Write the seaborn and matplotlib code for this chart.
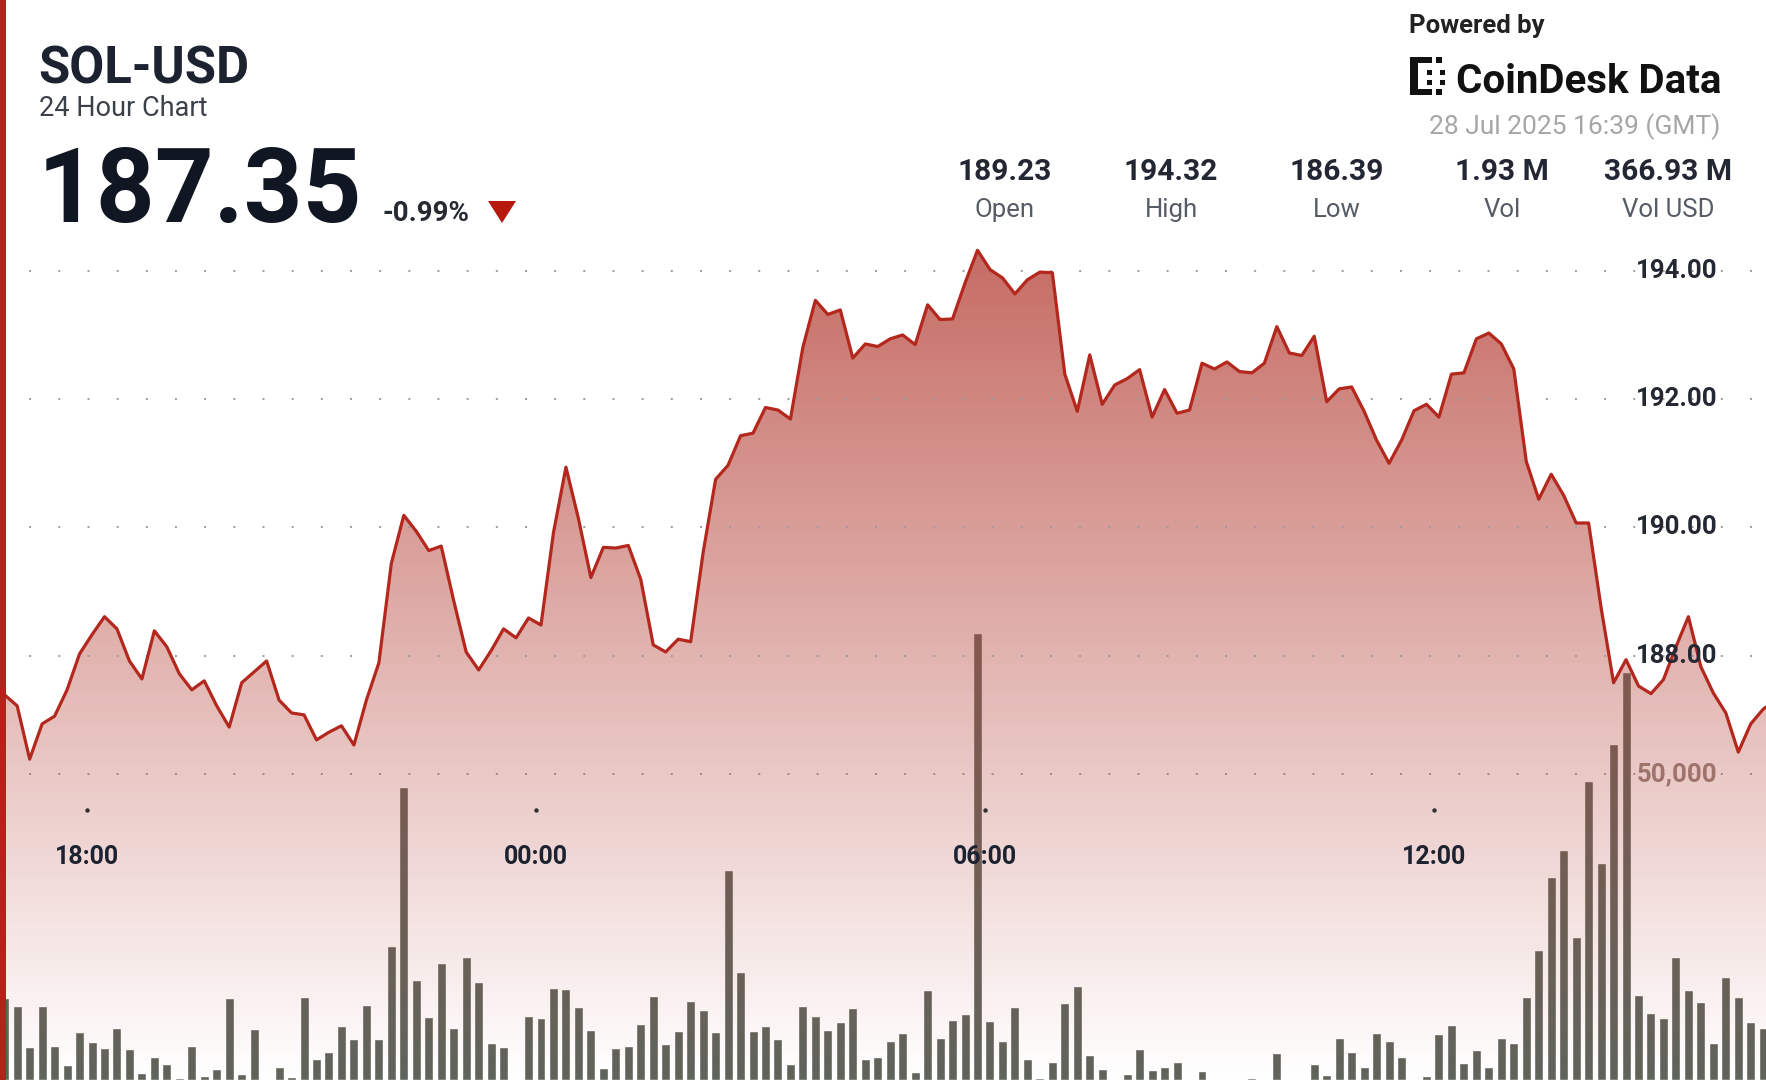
import numpy as np
import matplotlib
matplotlib.use("Agg")
import matplotlib.pyplot as plt
import matplotlib.transforms as mtransforms
from matplotlib.patches import Polygon, Rectangle
import seaborn as sns

# SOL-USD, 10 minute steps starting 27 Jul 16:54 (hours counted from 27 Jul 00:00)
start_hour = 16.9
step_hour = 1 / 6

price = [
    187.39, 187.22, 186.39, 186.94, 187.06, 187.47, 188.03, 188.33, 188.61, 188.42,
    187.92, 187.64, 188.39, 188.14, 187.72, 187.47, 187.61, 187.22, 186.89, 187.58,
    187.75, 187.92, 187.31, 187.11, 187.08,
    186.69, 186.81, 186.91, 186.61, 187.31, 187.89, 189.44, 190.19, 189.94, 189.64,
    189.71, 188.86, 188.06, 187.78, 188.08, 188.42, 188.28, 188.59, 188.48, 189.92,
    190.94, 190.14, 189.22, 189.69,
    189.68, 189.72, 189.19, 188.17, 188.06, 188.26, 188.22, 189.61, 190.75, 190.97,
    191.43, 191.47, 191.87, 191.83, 191.69, 192.81, 193.54, 193.32, 193.39, 192.64,
    192.86, 192.82, 192.94,
    193.00, 192.85, 193.47, 193.24, 193.25, 193.81, 194.32, 194.02, 193.89, 193.64,
    193.86, 193.98, 193.97, 192.39, 191.81, 192.69, 191.92, 192.22, 192.32, 192.46,
    191.72, 192.15, 191.78, 191.83,
    192.56, 192.47, 192.58, 192.43, 192.41, 192.56, 193.13, 192.72, 192.68, 192.98,
    191.96, 192.16, 192.19, 191.81, 191.36, 191.00, 191.36, 191.82, 191.92, 191.72,
    192.39, 192.41, 192.94, 193.03,
    192.86, 192.47, 191.03, 190.44, 190.83, 190.50, 190.07, 190.07, 188.75, 187.58,
    187.94, 187.53, 187.41, 187.63, 188.14, 188.61, 187.83, 187.42, 187.11, 186.50,
    186.94, 187.17, 187.31,
]

volume = [
    13345, 12093, 5447, 12093, 5610, 2451, 7789, 6155, 5175, 8443,
    5011, 1198, 3813, 2560, 300, 5556, 708, 1743, 13345, 980,
    8280, 200, 2179, 436, 13618, 3377, 4630, 8824, 6645, 12256,
    6645, 21951, 47934, 16341, 10349, 19173, 8552, 20045, 15960, 5992,
    5338, 200, 10458, 10077, 14979, 14816, 11874, 8171, 1906, 5175,
    5556, 9151, 13726, 5883, 8062, 12964, 11439, 7898, 34316, 17703,
    8007, 8824, 6645, 2560, 12147, 10458, 8171, 9532, 11711, 3377,
    3704, 6427, 7626,
    1362, 14707, 6809, 9805, 10785, 73000, 9696, 6373, 11874, 3377,
    272, 2996, 12637, 15361, 4085, 1798, 0, 980, 5066, 1634,
    2179, 2887, 0, 1525, 0, 0, 0, 381, 0, 4358,
    0, 0, 2560, 817, 6809, 4521, 2179, 7626, 6427, 3813,
    0, 654, 7517, 8988, 2724, 4902, 2179, 6809, 5992, 13509,
    21243, 33227, 37584, 23313, 48860, 35514, 54851, 66700, 13890, 11003,
    10077, 20154, 14707, 12800, 5992, 16777, 13509, 9532, 8443, 14162,
]

hours = start_hour + step_hour * np.arange(len(price))

tick_hours = [18, 24, 30, 36]
tick_labels = ["18:00", "00:00", "06:00", "12:00"]
price_ticks = [194, 192, 190, 188]
volume_tick = 50000

stat_values = ["189.23", "194.32", "186.39", "1.93 M", "366.93 M"]
stat_names = ["Open", "High", "Low", "Vol", "Vol USD"]

W, H = 1766, 1080
RED = "#b3271d"
DARK = "#1c2230"

sns.set_theme(style="white")
plt.rcParams["font.family"] = ["Roboto", "DejaVu Sans"]

fig = plt.figure(figsize=(W / 100, H / 100), dpi=100)
fig.patch.set_facecolor("white")
ax2 = fig.add_axes([0, 0, 1, 1])   # volume, drawn underneath
ax = fig.add_axes([0, 0, 1, 1])    # price
ax.patch.set_visible(False)

xlim = (16.837, 40.437)
ylim = (181.39, 198.22)

# volume bars
ax2.bar(hours, volume, width=step_hour * 0.72, color="#60645b", zorder=2)
ax2.set_xlim(*xlim)
ax2.set_ylim(0, 176470)
ax2.axhline(volume_tick, color="#9c9c9c", lw=1.4, ls=(0, (1, 14)), zorder=1)
ax2.set_axis_off()

# gradient area under the price line
grad = np.zeros((256, 1, 4))
grad[:, 0, 0] = 0.72
grad[:, 0, 1] = 0.28
grad[:, 0, 2] = 0.24
grad[:, 0, 3] = np.linspace(0.80, 0.0, 256)
im = ax.imshow(grad, extent=[xlim[0], xlim[1], ylim[0], max(price)],
               aspect="auto", origin="upper", zorder=2)
poly = ax.fill_between(hours, price, ylim[0], facecolor="none", edgecolor="none")
im.set_clip_path(poly.get_paths()[0], transform=ax.transData)

for v in price_ticks:
    ax.axhline(v, color="#9c9c9c", lw=1.4, ls=(0, (1, 14)), zorder=3)

sns.lineplot(x=hours, y=price, ax=ax, color=RED, linewidth=2.3, zorder=4)

ax.set_xlim(*xlim)
ax.set_ylim(*ylim)
ax.set_axis_off()

# axis labels drawn inside the plot
ytrans = mtransforms.blended_transform_factory(ax.transAxes, ax.transData)
for v in price_ticks:
    ax.text(1677 / W, v, f"{v:.2f}", transform=ytrans, ha="center", va="center",
            fontsize=18.5, fontweight="bold", color="#232832", zorder=6)
vtrans = mtransforms.blended_transform_factory(ax2.transAxes, ax2.transData)
ax2.text(1677 / W, volume_tick, f"{volume_tick:,}", transform=vtrans, ha="center",
         va="center", fontsize=18.5, fontweight="bold", color="#93867f", zorder=6)

xtrans = ax.get_xaxis_transform()
for h, lab in zip(tick_hours, tick_labels):
    ax.text(h, 1 - 857 / H, lab, transform=xtrans, ha="center", va="center",
            fontsize=18, fontweight="bold", color=DARK, zorder=6)
    ax.plot([h], [1 - 810 / H], transform=xtrans, marker="o", ms=2.2,
            color="#333333", zorder=6)


def ftext(x, y, s, **kw):
    fig.text(x / W, 1 - y / H, s, **kw)


# header
fig.patches.append(Rectangle((0, 0), 6 / W, 1, transform=fig.transFigure,
                             facecolor="#b3231a", edgecolor="none", zorder=10))
ftext(38, 84, "SOL-USD", fontsize=36.5, fontweight="bold", color=DARK, va="baseline")
ftext(39, 116, "24 Hour Chart", fontsize=19.5, color="#3b4049", va="baseline")
ftext(38, 222, "187.35", fontsize=74, fontweight="bold", color="#111722", va="baseline")
ftext(383, 221, "-0.99%", fontsize=20, fontweight="bold", color="#252a33", va="baseline")
tri = [(488 / W, 1 - 201 / H), (516 / W, 1 - 201 / H), (502 / W, 1 - 223 / H)]
fig.patches.append(Polygon(tri, closed=True, transform=fig.transFigure,
                           facecolor="#b8170d", edgecolor="none"))

ftext(1409, 33, "Powered by", fontsize=18.5, fontweight="bold", color="#222222", va="baseline")
# logo mark
for (x0, y0, w, h) in [(1410, 57, 8, 38), (1410, 57, 22, 6), (1410, 89, 22, 6),
                       (1436, 57, 6, 6), (1436, 89, 6, 6), (1427, 70, 5, 5),
                       (1427, 80, 5, 5), (1440, 70, 5, 5), (1440, 80, 5, 5)]:
    fig.patches.append(Rectangle((x0 / W, 1 - (y0 + h) / H), w / W, h / H,
                                 transform=fig.transFigure, facecolor="#111111",
                                 edgecolor="none"))
ftext(1456, 93, "CoinDesk Data", fontsize=29, fontweight="bold", color="#111111", va="baseline")
ftext(1720, 134, "28 Jul 2025 16:39 (GMT)", fontsize=19, color="#a6a6a6",
      va="baseline", ha="right")

stat_x = [1005, 1171, 1337, 1502, 1668]
for x, val, name in zip(stat_x, stat_values, stat_names):
    ftext(x, 180, val, fontsize=21.5, fontweight="bold", color="#222733", ha="center", va="baseline")
    ftext(x, 217, name, fontsize=18.5, color="#565c66", ha="center", va="baseline")

fig.savefig("out.png", dpi=100, facecolor="white")
